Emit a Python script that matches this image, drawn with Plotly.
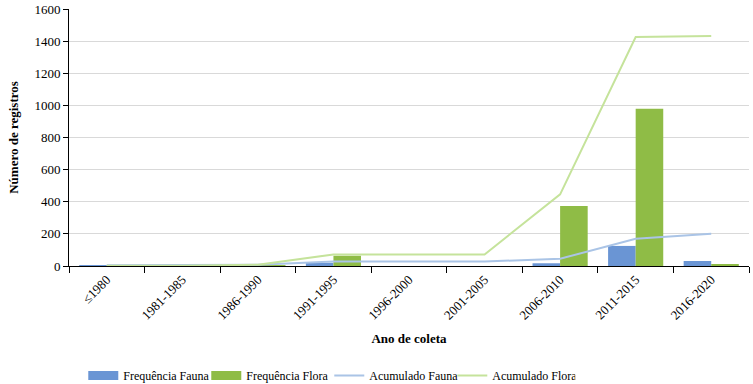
import plotly.graph_objects as go

categories = ["≤1980", "1981-1985", "1986-1990", "1991-1995", "1996-2000",
              "2001-2005", "2006-2010", "2011-2015", "2016-2020"]
freq_fauna = [5, 0, 3, 20, 0, 0, 17, 125, 31]
freq_flora = [2, 0, 6, 64, 0, 0, 374, 979, 7]
acum_fauna = [5, 5, 8, 28, 28, 28, 45, 170, 201]
acum_flora = [2, 2, 8, 72, 72, 72, 446, 1425, 1432]
y_ticks = [0, 200, 400, 600, 800, 1000, 1200, 1400, 1600]

FONT = "Liberation Serif"
C_FAUNA_BAR = "#6A95D4"
C_FLORA_BAR = "#8FBC46"

fig = go.Figure()
fig.add_trace(go.Bar(x=categories, y=freq_fauna, name="Frequência Fauna",
                     legendgroup="ff", showlegend=False,
                     marker=dict(color=C_FAUNA_BAR, line=dict(width=0))))
fig.add_trace(go.Bar(x=categories, y=freq_flora, name="Frequência Flora",
                     legendgroup="fl", showlegend=False,
                     marker=dict(color=C_FLORA_BAR, line=dict(width=0))))
# legend swatches (rectangular, as in the reference)
fig.add_trace(go.Scatter(x=[None], y=[None], name="Frequência Fauna", legendgroup="ff",
                         mode="lines", line=dict(color=C_FAUNA_BAR, width=9)))
fig.add_trace(go.Scatter(x=[None], y=[None], name="Frequência Flora", legendgroup="fl",
                         mode="lines", line=dict(color=C_FLORA_BAR, width=9)))
fig.add_trace(go.Scatter(x=categories, y=acum_fauna, name="Acumulado Fauna",
                         mode="lines", line=dict(color="#AAC4E6", width=2)))
fig.add_trace(go.Scatter(x=categories, y=acum_flora, name="Acumulado Flora",
                         mode="lines", line=dict(color="#C5E39B", width=2)))

fig.update_layout(
    width=753, height=384,
    margin=dict(l=69, r=4, t=9, b=118, autoexpand=False),
    paper_bgcolor="white", plot_bgcolor="white",
    font=dict(family=FONT, size=13, color="black"),
    barmode="group", bargap=0.27, bargroupgap=0,
    showlegend=True,
    legend=dict(orientation="h", x=0.021, xanchor="left", y=-0.37, yanchor="top",
                font=dict(family=FONT, size=12, color="black"),
                entrywidth=78, entrywidthmode="pixels",
                itemwidth=30, traceorder="normal"),
)
fig.update_xaxes(
    type="category", tickangle=-45, tickson="boundaries",
    ticks="outside", ticklen=6, tickcolor="black",
    showline=True, linecolor="black", linewidth=1,
    showgrid=False,
    tickfont=dict(family=FONT, size=13),
    title=dict(text="<b>Ano de coleta</b>", font=dict(family=FONT, size=13), standoff=12),
)
fig.update_yaxes(
    range=[0, 1600], tickvals=y_ticks,
    ticks="outside", ticklen=5, tickcolor="black",
    showline=True, linecolor="black", linewidth=1,
    showgrid=True, gridcolor="#D9D9D9", gridwidth=1,
    zeroline=False,
    tickfont=dict(family=FONT, size=13),
    title=dict(text="<b>Número de registros</b>", font=dict(family=FONT, size=13), standoff=12),
)

fig.write_html("out.html", config={"displayModeBar": False},
               post_script="document.body.style.margin='0';document.body.style.padding='0';")
